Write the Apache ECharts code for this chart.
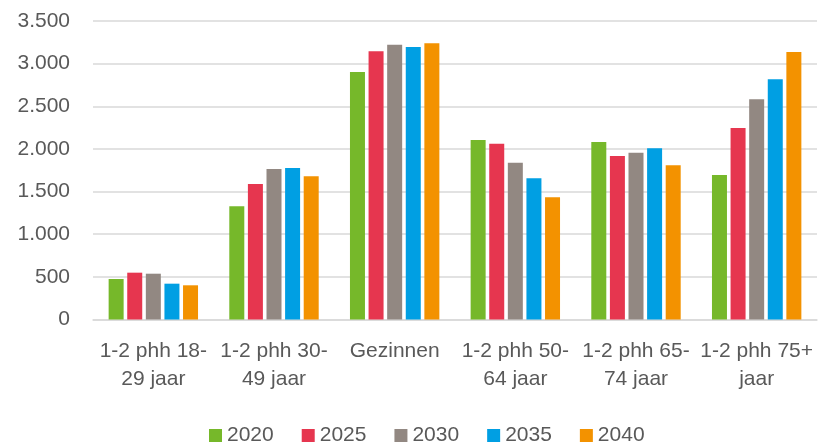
<!DOCTYPE html>
<html>
<head>
<meta charset="utf-8">
<script src="https://cdn.jsdelivr.net/npm/echarts@6/dist/echarts.min.js"></script>
<style>
  html, body { margin: 0; padding: 0; background: #fff; }
  #chart { width: 818px; height: 443px; }
</style>
</head>
<body>
<div id="chart"></div>
<script>
// huishoudens per type, prognose
const categories = ['1-2 phh 18-\n29 jaar', '1-2 phh 30-\n49 jaar', 'Gezinnen', '1-2 phh 50-\n64 jaar', '1-2 phh 65-\n74 jaar', '1-2 phh 75+\njaar'];
const years = ['2020', '2025', '2030', '2035', '2040'];
const v2020 = [475, 1327, 2902, 2105, 2081, 1694];
const v2025 = [549, 1589, 3145, 2061, 1917, 2245];
const v2030 = [537, 1765, 3222, 1839, 1956, 2582];
const v2035 = [420, 1776, 3195, 1656, 2007, 2816];
const v2040 = [401, 1679, 3238, 1433, 1808, 3136];
const yTicks = [0, 500, 1000, 1500, 2000, 2500, 3000, 3500];

const colors = ['#76B82A', '#E6364F', '#928882', '#009FE3', '#F39200'];
const values = [v2020, v2025, v2030, v2035, v2040];
const font = 'Liberation Sans, Arial, sans-serif';
const textColor = '#595959';

const chart = echarts.init(document.getElementById('chart'));
chart.setOption({
  animation: false,
  backgroundColor: '#fff',
  grid: { left: 93, right: 1, top: 21, bottom: 123.5 },
  legend: {
    left: 204,
    top: 420,
    itemWidth: 13,
    itemHeight: 13,
    itemGap: 28,
    icon: 'rect',
    textStyle: { color: textColor, fontSize: 21, fontFamily: font },
    data: years
  },
  xAxis: {
    type: 'category',
    data: categories,
    axisTick: { show: false },
    axisLine: { lineStyle: { color: '#d9d9d9', width: 1.5 } },
    axisLabel: {
      color: textColor, fontSize: 21, fontFamily: font,
      lineHeight: 28, margin: 18, interval: 0
    }
  },
  yAxis: {
    type: 'value',
    min: yTicks[0],
    max: yTicks[yTicks.length - 1],
    interval: 500,
    axisLine: { show: false },
    axisTick: { show: false },
    splitLine: { lineStyle: { color: '#d9d9d9', width: 1.5 } },
    axisLabel: {
      color: textColor, fontSize: 21, fontFamily: font, margin: 23,
      formatter: v => v.toString().replace(/\B(?=(\d{3})+(?!\d))/g, '.')
    }
  },
  series: years.map((y, i) => ({
    name: y,
    type: 'bar',
    data: values[i],
    barWidth: 15,
    barGap: '24%',
    itemStyle: { color: colors[i] }
  }))
});
</script>
</body>
</html>
